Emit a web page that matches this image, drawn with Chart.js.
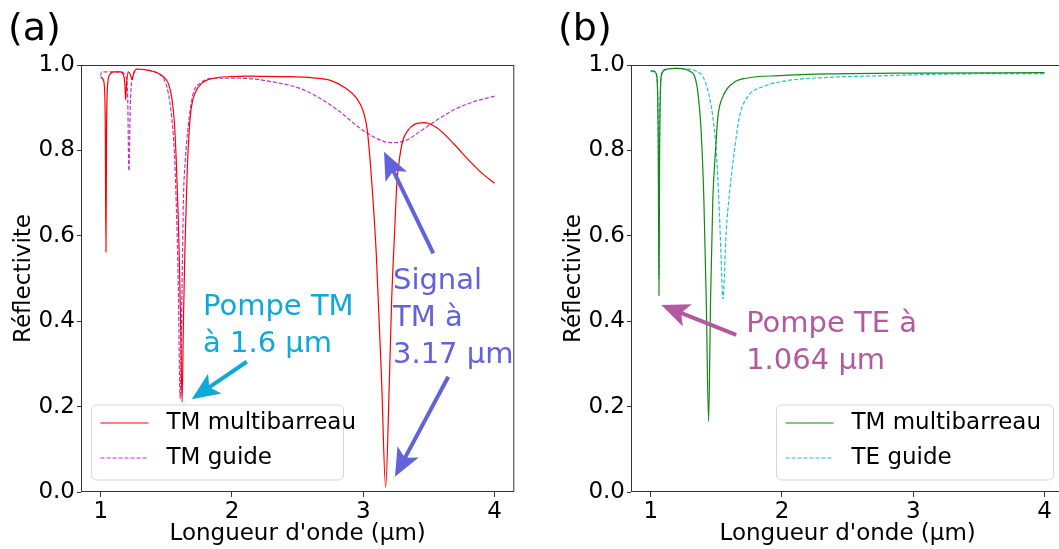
<!DOCTYPE html>
<html>
<head>
<meta charset="utf-8">
<script src="https://cdn.jsdelivr.net/npm/chart.js@4"></script>
<style>
  html, body { margin: 0; padding: 0; background: #fff; overflow: hidden; width: 1059px; height: 549px; }
  canvas { position: absolute; top: 0; }
  #chartA { left: 0; }
  #chartB { left: 550px; }
</style>
</head>
<body>
<canvas id="chartA" width="530" height="549"></canvas>
<canvas id="chartB" width="530" height="549"></canvas>
<script>
// tick labels
const xTicks = [1, 2, 3, 4];
const yTicks = [0, 0.2, 0.4, 0.6, 0.8, 1.0];

// (a) TM multibarreau
const wlA1 = [1.00, 1.02, 1.03, 1.035, 1.04, 1.045, 1.055, 1.07, 1.10, 1.15, 1.175, 1.185, 1.19, 1.197, 1.21, 1.225, 1.24, 1.25, 1.27, 1.30, 1.35, 1.43, 1.48, 1.515, 1.54, 1.56, 1.575, 1.59, 1.60, 1.61, 1.62, 1.63, 1.64, 1.65, 1.66, 1.675, 1.69, 1.72, 1.77, 1.86, 2.0, 2.11, 2.37, 2.62, 2.75, 2.87, 2.95, 3.0, 3.03, 3.065, 3.10, 3.14, 3.17, 3.198, 3.216, 3.24, 3.255, 3.28, 3.30, 3.34, 3.39, 3.46, 3.56, 3.69, 3.81, 3.91, 4.0];
const rA1 = [0.972, 0.965, 0.94, 0.86, 0.562, 0.86, 0.96, 0.978, 0.984, 0.984, 0.975, 0.95, 0.918, 0.955, 0.984, 0.978, 0.965, 0.978, 0.99, 0.99, 0.988, 0.982, 0.972, 0.957, 0.926, 0.87, 0.78, 0.65, 0.53, 0.37, 0.21, 0.40, 0.55, 0.66, 0.76, 0.85, 0.90, 0.935, 0.957, 0.969, 0.973, 0.974, 0.973, 0.970, 0.964, 0.945, 0.922, 0.891, 0.848, 0.723, 0.55, 0.255, 0.011, 0.255, 0.45, 0.62, 0.72, 0.79, 0.822, 0.847, 0.861, 0.865, 0.853, 0.815, 0.775, 0.745, 0.723];

// (a) TM guide
const wlA2 = [1.00, 1.005, 1.05, 1.10, 1.15, 1.19, 1.205, 1.215, 1.225, 1.235, 1.25, 1.275, 1.32, 1.40, 1.45, 1.48, 1.515, 1.54, 1.56, 1.575, 1.59, 1.605, 1.618, 1.63, 1.645, 1.655, 1.675, 1.705, 1.756, 1.86, 2.06, 2.37, 2.52, 2.67, 2.82, 2.975, 3.13, 3.216, 3.33, 3.43, 3.56, 3.69, 3.84, 4.0];
const rA2 = [0.975, 0.984, 0.984, 0.984, 0.984, 0.975, 0.93, 0.752, 0.90, 0.96, 0.98, 0.99, 0.99, 0.985, 0.978, 0.968, 0.934, 0.879, 0.80, 0.68, 0.50, 0.219, 0.45, 0.684, 0.78, 0.82, 0.879, 0.934, 0.957, 0.969, 0.969, 0.957, 0.945, 0.922, 0.891, 0.852, 0.824, 0.818, 0.824, 0.844, 0.871, 0.895, 0.914, 0.927];

// (b) TM multibarreau
const wlB1 = [1.00, 1.03, 1.045, 1.053, 1.058, 1.063, 1.068, 1.075, 1.085, 1.12, 1.195, 1.26, 1.30, 1.335, 1.36, 1.385, 1.405, 1.423, 1.441, 1.456, 1.473, 1.494, 1.512, 1.55, 1.625, 1.727, 1.98, 2.36, 3.0, 4.0];
const rB1 = [0.987, 0.985, 0.975, 0.93, 0.80, 0.46, 0.80, 0.95, 0.98, 0.99, 0.992, 0.99, 0.985, 0.973, 0.934, 0.84, 0.684, 0.45, 0.165, 0.45, 0.684, 0.80, 0.879, 0.926, 0.957, 0.969, 0.975, 0.979, 0.981, 0.982];

// (b) TE guide
const wlB2 = [1.00, 1.03, 1.045, 1.053, 1.058, 1.062, 1.067, 1.075, 1.085, 1.12, 1.20, 1.30, 1.35, 1.397, 1.435, 1.473, 1.499, 1.519, 1.535, 1.55, 1.575, 1.60, 1.638, 1.676, 1.739, 1.853, 2.03, 2.36, 2.79, 3.3, 4.0];
const rB2 = [0.985, 0.984, 0.975, 0.93, 0.80, 0.50, 0.80, 0.95, 0.98, 0.99, 0.992, 0.99, 0.985, 0.973, 0.941, 0.879, 0.80, 0.684, 0.56, 0.452, 0.61, 0.70, 0.80, 0.879, 0.926, 0.949, 0.963, 0.971, 0.975, 0.979, 0.98];

const FONT = "'DejaVu Sans', sans-serif";

function toPoints(xs, ys) {
  return xs.map((x, i) => ({ x: x, y: ys[i] }));
}

function drawArrow(ctx, x0, y0, x1, y1, color) {
  const ang = Math.atan2(y1 - y0, x1 - x0);
  const len = Math.hypot(x1 - x0, y1 - y0);
  const hl = 28, hw = 12, sw = 2;
  ctx.save();
  ctx.translate(x0, y0);
  ctx.rotate(ang);
  ctx.beginPath();
  ctx.moveTo(0, -sw);
  ctx.lineTo(len - hl * 0.8, -sw);
  ctx.lineTo(len - hl, -hw);
  ctx.lineTo(len, 0);
  ctx.lineTo(len - hl, hw);
  ctx.lineTo(len - hl * 0.8, sw);
  ctx.lineTo(0, sw);
  ctx.closePath();
  ctx.fillStyle = color;
  ctx.fill();
  ctx.restore();
}

// frame, legend, texts and arrows
const extras = {
  id: "extras",
  afterDraw(chart, args, opts) {
    const ctx = chart.ctx;
    const xs = chart.scales.x, ys = chart.scales.y;
    const a = chart.chartArea;

    ctx.save();
    // frame
    ctx.strokeStyle = "#333";
    ctx.lineWidth = 1;
    ctx.strokeRect(a.left + 0.5, a.top + 0.5, a.right - a.left - 1, a.bottom - a.top - 1);

    // legend
    const lg = opts.legend;
    ctx.beginPath();
    ctx.roundRect(lg.x, lg.y, lg.w, lg.h, 5);
    ctx.fillStyle = "rgba(255,255,255,0.85)";
    ctx.fill();
    ctx.strokeStyle = "#d6d6d6";
    ctx.stroke();
    chart.data.datasets.forEach((ds, i) => {
      const yy = lg.y + 18 + i * 35;
      ctx.beginPath();
      ctx.setLineDash(ds.borderDash || []);
      ctx.strokeStyle = ds.borderColor;
      ctx.lineWidth = ds.borderWidth;
      ctx.moveTo(lg.x + 9, yy);
      ctx.lineTo(lg.x + 57, yy);
      ctx.stroke();
      ctx.setLineDash([]);
      ctx.fillStyle = "#000";
      ctx.font = "23px " + FONT;
      ctx.textBaseline = "middle";
      ctx.fillText(ds.label, lg.x + 75, yy);
    });

    // annotation texts
    opts.notes.forEach(n => {
      ctx.fillStyle = n.color;
      ctx.font = "29px " + FONT;
      ctx.textBaseline = "alphabetic";
      const px = xs.getPixelForValue(n.x), py = ys.getPixelForValue(n.y);
      n.lines.forEach((t, i) => ctx.fillText(t, px, py + i * 37));
    });

    // arrows
    opts.arrows.forEach(ar => {
      drawArrow(ctx,
        xs.getPixelForValue(ar.from[0]), ys.getPixelForValue(ar.from[1]),
        xs.getPixelForValue(ar.to[0]), ys.getPixelForValue(ar.to[1]), ar.color);
    });

    // panel letter
    ctx.fillStyle = "#000";
    ctx.font = "38px " + FONT;
    ctx.textBaseline = "alphabetic";
    ctx.fillText(opts.letter, 8, 40);
    ctx.restore();
  }
};

function makeChart(id, datasets, extraOpts) {
  return new Chart(document.getElementById(id), {
    type: "line",
    data: { datasets: datasets },
    options: {
      responsive: false,
      animation: false,
      devicePixelRatio: 1,
      layout: { padding: { left: 0, top: 65, right: 15.7, bottom: 0 } },
      elements: { point: { radius: 0 }, line: { cubicInterpolationMode: "monotone" } },
      plugins: { legend: { display: false }, tooltip: { enabled: false }, extras: extraOpts },
      scales: {
        x: {
          type: "linear",
          min: 0.85,
          max: 4.15,
          afterBuildTicks: s => { s.ticks = xTicks.map(v => ({ value: v })); },
          afterFit: s => { s.height = 57; },
          ticks: { color: "#000", font: { family: FONT, size: 23 }, padding: 1, maxRotation: 0,
                   callback: v => String(v) },
          grid: { display: true, drawOnChartArea: false, drawTicks: true, tickLength: 5, color: "#333" },
          border: { display: false },
          title: { display: true, text: "Longueur d'onde (\u00b5m)", color: "#000",
                   font: { family: FONT, size: 23 }, padding: { top: 0, bottom: 1 } }
        },
        y: {
          min: 0,
          max: 1,
          afterBuildTicks: s => { s.ticks = yTicks.map(v => ({ value: v })); },
          afterFit: s => { s.width = 81; },
          ticks: { color: "#000", font: { family: FONT, size: 23 }, padding: 2,
                   callback: v => v.toFixed(1) },
          grid: { display: true, drawOnChartArea: false, drawTicks: true, tickLength: 4, color: "#333" },
          border: { display: false },
          title: { display: true, text: "R\u00e9flectivite", color: "#000",
                   font: { family: FONT, size: 23 }, padding: { top: 10, bottom: 0 } }
        }
      }
    },
    plugins: [extras]
  });
}

makeChart("chartA", [
  { label: "TM multibarreau", data: toPoints(wlA1, rA1), borderColor: "#ff0000", borderWidth: 1.2, fill: false },
  { label: "TM guide", data: toPoints(wlA2, rA2), borderColor: "#c030d0", borderWidth: 1.2, borderDash: [4, 2], fill: false }
], {
  letter: "(a)",
  legend: { x: 91.5, y: 405, w: 252, h: 75 },
  notes: [
    { lines: ["Pompe TM", "\u00e0 1.6 \u00b5m"], x: 1.779, y: 0.4145, color: "#10a8d8" },
    { lines: ["Signal", "TM \u00e0", "3.17 \u00b5m"], x: 3.226, y: 0.475, color: "#6262da" }
  ],
  arrows: [
    { from: [2.112, 0.305], to: [1.693, 0.217], color: "#10a8d8" },
    { from: [3.533, 0.559], to: [3.158, 0.797], color: "#6262da" },
    { from: [3.647, 0.270], to: [3.241, 0.036], color: "#6262da" }
  ]
});

makeChart("chartB", [
  { label: "TM multibarreau", data: toPoints(wlB1, rB1), borderColor: "#108a10", borderWidth: 1.2, fill: false },
  { label: "TE guide", data: toPoints(wlB2, rB2), borderColor: "#20c4cc", borderWidth: 1.2, borderDash: [4, 2], fill: false }
], {
  letter: "(b)",
  legend: { x: 226.5, y: 405, w: 277, h: 75 },
  notes: [
    { lines: ["Pompe TE \u00e0", "1.064 \u00b5m"], x: 1.727, y: 0.375, color: "#b25aa0" }
  ],
  arrows: [
    { from: [1.651, 0.368], to: [1.081, 0.438], color: "#b25aa0" }
  ]
});
</script>
</body>
</html>
